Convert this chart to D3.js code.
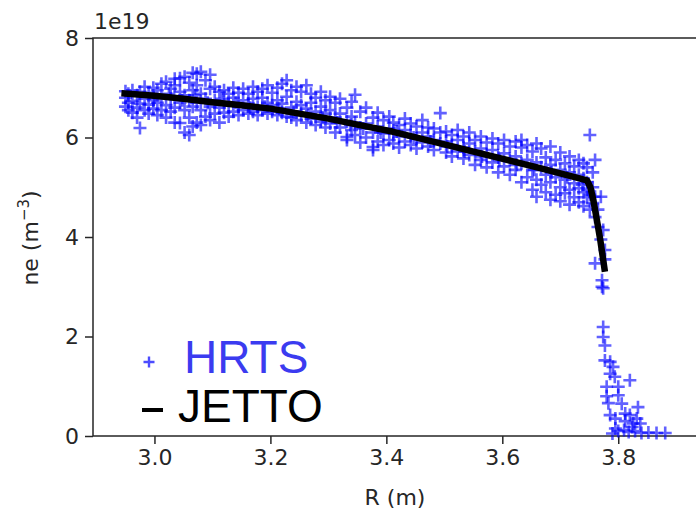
<!DOCTYPE html>
<html>
<head>
<meta charset="utf-8">
<script src="https://cdn.jsdelivr.net/npm/d3@7"></script>
<style>
  html, body { margin: 0; padding: 0; background: #fff; }
  svg { display: block; }
  text { font-family: "DejaVu Sans", sans-serif; }
</style>
</head>
<body>
<div id="chart"></div>
<script>
// Electron density profile: HRTS measurements against the JETTO simulation.
// Densities are in units of 1e19 m^-3, major radius R in metres.

const xTicks = [3.0, 3.2, 3.4, 3.6, 3.8];
const yTicks = [0, 2, 4, 6, 8];

// JETTO simulated profile
const jettoR  = [2.943, 3.00, 3.05, 3.10, 3.15, 3.20, 3.25, 3.30, 3.35, 3.41, 3.50, 3.58, 3.66, 3.72, 3.746, 3.752, 3.757, 3.763, 3.769, 3.777];
const jettoNe = [6.89, 6.84, 6.78, 6.71, 6.65, 6.58, 6.48, 6.38, 6.26, 6.12, 5.86, 5.63, 5.40, 5.22, 5.14, 5.00, 4.74, 4.35, 3.94, 3.30];

// HRTS Thomson scattering measurements
const hrtsR = [
  2.950, 2.950, 2.950, 2.955, 2.955, 2.955, 2.962, 2.962, 2.962, 2.970, 2.970, 2.970,
  2.975, 2.975, 2.975, 2.983, 2.983, 2.983, 2.990, 2.990, 2.990, 2.998, 2.998, 2.998,
  3.005, 3.005, 3.005, 3.012, 3.012, 3.012, 3.020, 3.020, 3.020, 3.028, 3.028, 3.028,
  3.035, 3.035, 3.035, 3.035, 3.044, 3.044, 3.044, 3.044, 3.052, 3.052, 3.052, 3.052,
  3.060, 3.060, 3.060, 3.060, 3.066, 3.066, 3.066, 3.066, 3.073, 3.073, 3.073, 3.073,
  3.080, 3.080, 3.080, 3.080, 3.088, 3.088, 3.088, 3.096, 3.096, 3.096, 3.096,
  3.104, 3.104, 3.104, 3.112, 3.112, 3.112, 3.120, 3.120, 3.120, 3.128, 3.128, 3.128,
  3.136, 3.136, 3.136, 3.145, 3.145, 3.145, 3.153, 3.153, 3.153, 3.162, 3.162, 3.162,
  3.170, 3.170, 3.170, 3.178, 3.178, 3.178, 3.186, 3.186, 3.186, 3.195, 3.195, 3.195,
  3.203, 3.203, 3.203, 3.212, 3.212, 3.212, 3.220, 3.220, 3.220, 3.228, 3.228, 3.228,
  3.236, 3.236, 3.236, 3.245, 3.245, 3.245, 3.253, 3.253, 3.253, 3.262, 3.262, 3.262,
  3.270, 3.270, 3.270, 3.278, 3.278, 3.278, 3.287, 3.287, 3.287, 3.295, 3.295, 3.295,
  3.303, 3.303, 3.303, 3.312, 3.312, 3.312, 3.320, 3.320, 3.320, 3.332, 3.332, 3.332, 3.332,
  3.340, 3.340, 3.340, 3.346, 3.346, 3.346, 3.355, 3.355, 3.355, 3.365, 3.365, 3.365,
  3.377, 3.377, 3.377, 3.377, 3.385, 3.385, 3.385, 3.395, 3.395, 3.395, 3.405, 3.405, 3.405,
  3.412, 3.412, 3.412, 3.422, 3.422, 3.422, 3.432, 3.432, 3.432, 3.442, 3.442, 3.442,
  3.452, 3.452, 3.452, 3.462, 3.462, 3.462, 3.472, 3.472, 3.472, 3.482, 3.482, 3.482,
  3.493, 3.493, 3.493, 3.503, 3.503, 3.503, 3.513, 3.513, 3.513, 3.523, 3.523, 3.523,
  3.533, 3.533, 3.533, 3.543, 3.543, 3.543, 3.553, 3.553, 3.553, 3.563, 3.563, 3.563,
  3.573, 3.573, 3.573, 3.583, 3.583, 3.583, 3.593, 3.593, 3.593, 3.603, 3.603, 3.603,
  3.613, 3.613, 3.613, 3.623, 3.623, 3.623, 3.633, 3.633, 3.633, 3.633, 3.643, 3.643, 3.643,
  3.652, 3.652, 3.652, 3.659, 3.659, 3.659, 3.659, 3.667, 3.667, 3.667, 3.675, 3.675, 3.675,
  3.683, 3.683, 3.683, 3.683, 3.692, 3.692, 3.692, 3.700, 3.700, 3.700, 3.700,
  3.708, 3.708, 3.708, 3.716, 3.716, 3.716, 3.716, 3.724, 3.724, 3.724,
  3.732, 3.732, 3.732, 3.732, 3.740, 3.740, 3.740, 3.740, 3.746, 3.746, 3.746,
  3.751, 3.751, 3.751, 3.756, 3.756, 3.756, 3.760, 3.760, 3.760, 3.765, 3.765,
  3.770, 3.770, 3.774, 3.774, 3.777, 3.777, 3.760, 3.772, 3.772,
  3.774, 3.774, 3.777, 3.777, 3.786, 3.786, 3.791, 3.794, 3.820, 3.780, 3.780,
  3.800, 3.800, 3.783, 3.806, 3.786, 3.820, 3.834, 3.826, 3.838, 3.812, 3.812,
  3.795, 3.795, 3.800, 3.810, 3.818, 3.829, 3.840, 3.852, 3.866, 3.881, 3.790, 3.824, 3.832,
  3.000, 3.025, 3.048, 3.070, 3.092, 3.116, 3.140, 3.165, 3.190, 3.215,
  3.240, 3.265, 3.290, 3.315, 3.338, 3.360, 3.390, 3.418, 3.447, 3.476,
  3.505, 3.535, 3.565, 3.595, 3.625, 3.655, 3.685, 3.712, 3.738, 3.748
];
const hrtsNe = [
  6.62, 6.80, 6.93, 6.55, 6.70, 6.88, 6.50, 6.74, 6.95, 6.60, 6.85, 6.40,
  6.19, 6.68, 6.92, 6.55, 6.78, 7.02, 6.48, 6.66, 6.90, 6.58, 6.75, 7.00,
  6.45, 6.70, 6.95, 6.55, 6.82, 7.08, 6.40, 6.65, 7.12, 6.52, 6.78, 6.98,
  6.30, 6.60, 7.05, 7.18, 6.29, 6.70, 6.92, 7.19, 6.10, 6.55, 6.85, 7.22,
  6.05, 6.40, 6.75, 7.10, 6.22, 6.62, 6.95, 7.30, 6.30, 6.70, 7.05, 7.28,
  6.25, 6.55, 6.88, 7.32, 6.42, 6.78, 7.15, 6.35, 6.62, 6.98, 7.26,
  6.48, 6.75, 7.02, 6.30, 6.60, 6.92, 6.50, 6.72, 6.95, 6.42, 6.66, 6.88,
  6.52, 6.80, 7.00, 6.45, 6.62, 6.90, 6.55, 6.75, 6.98, 6.48, 6.68, 6.88,
  6.52, 6.78, 7.02, 6.45, 6.62, 6.92, 6.55, 6.80, 6.98, 6.48, 6.70, 7.05,
  6.52, 6.65, 6.90, 6.45, 6.75, 7.00, 6.50, 6.68, 7.08, 6.42, 6.82, 7.15,
  6.40, 6.60, 6.95, 6.35, 6.72, 7.02, 6.45, 6.65, 6.92, 6.30, 6.58, 7.05,
  6.38, 6.70, 6.88, 6.25, 6.52, 6.80, 6.32, 6.62, 6.92, 6.20, 6.48, 6.75,
  6.28, 6.55, 6.82, 6.10, 6.40, 6.70, 6.20, 6.48, 6.78, 5.95, 6.32, 6.60, 6.01,
  6.15, 6.42, 6.72, 6.05, 6.30, 6.86, 5.90, 6.20, 6.52, 6.00, 6.28, 6.60,
  5.75, 6.10, 6.40, 5.81, 5.92, 6.22, 6.50, 5.85, 6.08, 6.35, 5.95, 6.18, 6.42,
  5.88, 6.09, 6.30, 5.80, 6.02, 6.25, 5.92, 6.15, 6.38, 5.85, 6.05, 6.28,
  5.78, 5.98, 6.22, 5.90, 6.10, 6.35, 5.82, 6.02, 6.20, 5.75, 5.95, 6.18,
  5.88, 6.10, 6.49, 5.70, 5.92, 6.12, 5.62, 5.85, 6.05, 5.72, 5.95, 6.15,
  5.58, 5.80, 6.02, 5.65, 5.88, 6.10, 5.45, 5.72, 5.95, 5.55, 5.78, 6.02,
  5.40, 5.65, 5.90, 5.50, 5.75, 5.98, 5.30, 5.60, 5.88, 5.42, 5.68, 5.95,
  5.25, 5.55, 5.82, 5.35, 5.62, 5.92, 5.10, 5.48, 5.80, 5.95, 5.20, 5.55, 5.85,
  4.95, 5.35, 5.72, 4.81, 5.15, 5.50, 5.88, 5.05, 5.40, 5.78, 4.90, 5.25, 5.60,
  4.75, 5.10, 5.45, 5.82, 4.85, 5.20, 5.55, 4.72, 5.00, 5.35, 5.70,
  4.88, 5.15, 5.48, 4.65, 4.95, 5.30, 5.62, 4.80, 5.08, 5.42,
  4.70, 4.98, 5.25, 5.55, 4.62, 4.90, 5.18, 5.48, 4.80, 5.10, 5.40,
  4.55, 4.85, 6.05, 4.68, 5.00, 5.30, 4.40, 4.81, 5.55, 4.20, 4.55,
  3.95, 4.81, 4.14, 2.97, 3.74, 3.55, 3.47, 3.13, 3.00,
  2.19, 1.99, 1.82, 1.52, 1.49, 1.25, 1.39, 1.19, 1.12, 0.99, 0.80,
  0.99, 0.82, 0.66, 0.65, 0.42, 0.42, 0.58, 0.25, 0.25, 0.45, 0.30,
  0.35, 0.15, 0.10, 0.12, 0.08, 0.10, 0.06, 0.07, 0.06, 0.06, 0.05, 0.18, 0.35,
  6.80, 6.88, 6.75, 6.85, 6.70, 6.78, 6.70, 6.60, 6.62, 6.58,
  6.52, 6.45, 6.40, 6.30, 6.25, 6.18, 6.10, 6.12, 6.00, 5.92,
  5.82, 5.72, 5.62, 5.55, 5.45, 5.35, 5.30, 5.20, 5.05, 4.95
];

const W = 696, H = 519;
const plot = { left: 93, top: 38, bottom: 436, right: 700 };

const svg = d3.select("#chart").append("svg")
  .attr("width", W).attr("height", H);

const x = d3.scaleLinear().domain([2.894, 3.941]).range([plot.left, plot.right]);
const y = d3.scaleLinear().domain([0, 8]).range([plot.bottom, plot.top]);

const axisColor = "#262626";
const tickFont = 22;

// Axes
const xAxis = svg.append("g")
  .attr("transform", `translate(0,${plot.bottom})`)
  .call(d3.axisBottom(x).tickValues(xTicks).tickFormat(d3.format(".1f")).tickSize(8).tickPadding(5));
const yAxis = svg.append("g")
  .attr("transform", `translate(${plot.left},0)`)
  .call(d3.axisLeft(y).tickValues(yTicks).tickFormat(d3.format("d")).tickSize(8).tickPadding(6));

[xAxis, yAxis].forEach(g => {
  g.select(".domain").remove();
  g.selectAll(".tick line").attr("stroke", axisColor).attr("stroke-width", 1.5);
  g.selectAll(".tick text").attr("fill", "#262626").style("font-size", tickFont + "px")
    .style("font-family", "DejaVu Sans, sans-serif");
});

// Frame
svg.append("rect")
  .attr("x", plot.left).attr("y", plot.top)
  .attr("width", plot.right - plot.left).attr("height", plot.bottom - plot.top)
  .attr("fill", "none").attr("stroke", axisColor).attr("stroke-width", 1.5);

// Offset text
svg.append("text").attr("x", plot.left + 1).attr("y", plot.top - 9)
  .style("font-size", tickFont + "px").attr("fill", "#262626").text("1e19");

// Axis labels
svg.append("text")
  .attr("x", 395).attr("y", 505)
  .attr("text-anchor", "middle")
  .style("font-size", "22px").attr("fill", "#262626")
  .text("R (m)");

const yl = svg.append("text")
  .attr("transform", `translate(38,${238}) rotate(-90)`)
  .attr("text-anchor", "middle")
  .style("font-size", "22px").attr("fill", "#262626");
yl.append("tspan").text("ne (m");
yl.append("tspan").attr("dy", -9).style("font-size", "15px").text("−3");
yl.append("tspan").attr("dy", 9).text(")");

// HRTS markers
svg.append("clipPath").attr("id", "plotclip")
  .append("rect").attr("x", plot.left).attr("y", plot.top)
  .attr("width", plot.right - plot.left).attr("height", plot.bottom - plot.top + 6);

const arm = 6.5;
const plus = (cx, cy, a) => `M${cx - a},${cy}H${cx + a}M${cx},${cy - a}V${cy + a}`;
svg.append("g").attr("clip-path", "url(#plotclip)")
  .selectAll("path")
  .data(d3.range(hrtsR.length))
  .join("path")
  .attr("d", i => plus(x(hrtsR[i]), y(hrtsNe[i]), arm))
  .attr("stroke", "#0000ff")
  .attr("stroke-opacity", 0.62)
  .attr("stroke-width", 2.6)
  .attr("fill", "none");

// JETTO line
const line = d3.line().x(i => x(jettoR[i])).y(i => y(jettoNe[i]));
svg.append("path")
  .attr("d", line(d3.range(jettoR.length)))
  .attr("fill", "none")
  .attr("stroke", "#000")
  .attr("stroke-width", 6.5)
  .attr("stroke-linejoin", "round");

// Legend
const legendFont = "'Liberation Sans', Arial, sans-serif";
const leg = svg.append("g");
leg.append("path").attr("d", plus(149, 362, 5.5))
  .attr("stroke", "#0000ff").attr("stroke-opacity", 0.7).attr("stroke-width", 2.4);
leg.append("text").attr("x", 184).attr("y", 373)
  .style("font-family", legendFont)
  .style("font-size", "46px").attr("fill", "#3b3bf0").text("HRTS");
leg.append("line").attr("x1", 142).attr("x2", 163).attr("y1", 410).attr("y2", 410)
  .attr("stroke", "#000").attr("stroke-width", 4);
leg.append("text").attr("x", 178).attr("y", 422)
  .style("font-family", legendFont)
  .style("font-size", "46px").attr("fill", "#000").text("JETTO");
</script>
</body>
</html>
